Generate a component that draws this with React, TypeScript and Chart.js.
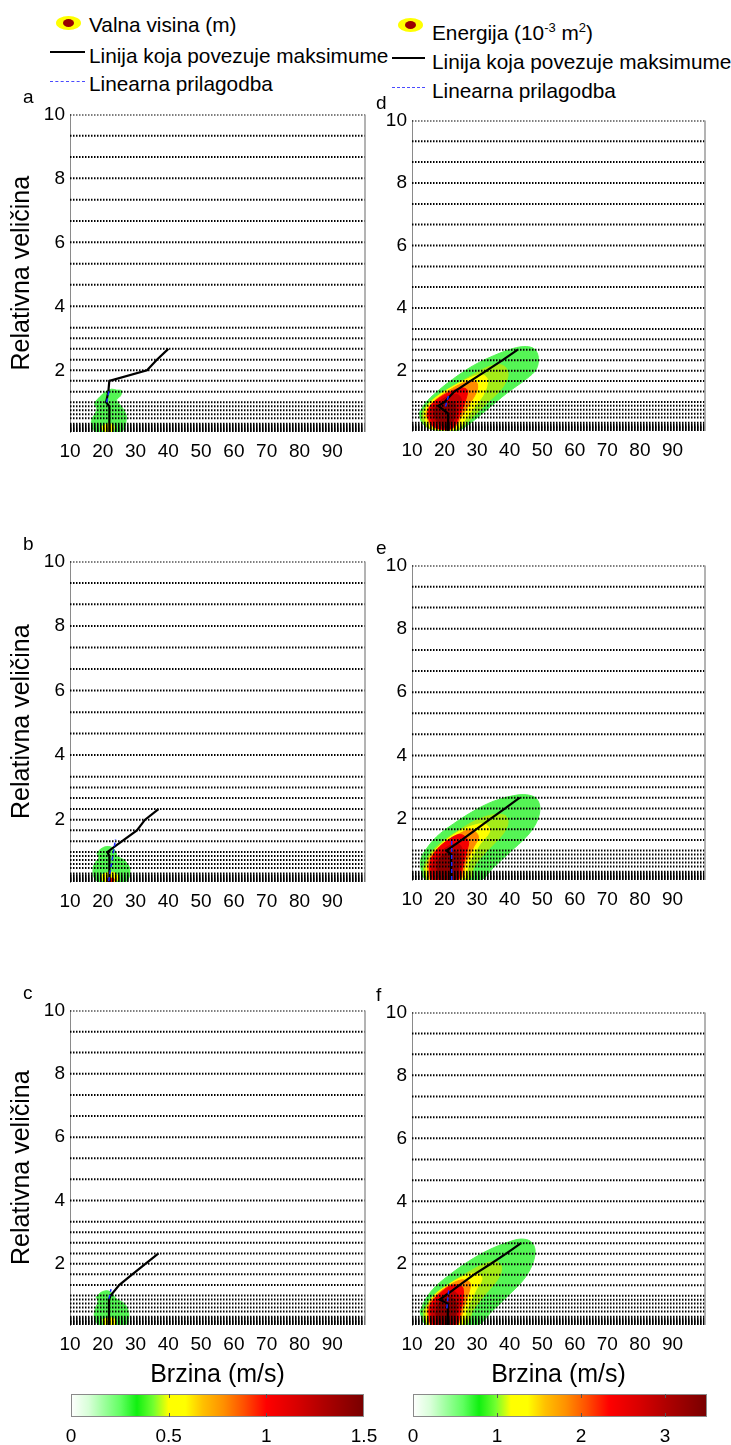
import React, { useEffect, useRef } from "react";
import { Chart, registerables } from "chart.js";
Chart.register(...registerables);

const FONT = '"Liberation Sans", Arial, Helvetica, sans-serif';
type Pt = [number, number];

// ---------- axes ----------
const xTicks = [10, 20, 30, 40, 50, 60, 70, 80, 90];
const yTicks = [2, 4, 6, 8, 10];
const xRange: Pt = [10, 100];
const yRange: Pt = [0.07, 10];
const gridRows = [10, 9.33, 8.67, 8, 7.33, 6.67, 6, 5.33, 4.67, 4, 3.33, 3, 2.67, 2.33, 2, 1.67, 1.33, 1, 0.875, 0.75, 0.625, 0.5, 0.33, 0.28, 0.24, 0.2, 0.17, 0.14, 0.11, 0.08];

// contour level colours (outer -> inner)
const levelColors = ["rgb(85,245,85)", "rgb(165,235,25)", "rgb(255,255,0)", "rgb(255,140,0)", "rgb(245,0,0)", "rgb(195,0,0)", "rgb(140,0,0)"];

// colormap for colour bars
const cmapPos = [0, 0.06, 0.11, 0.17, 0.225, 0.28, 0.333, 0.39, 0.45, 0.52, 0.59, 0.667, 0.77, 0.86, 1];
const cmapCol = ["#ffffff", "#d8ffd8", "#a0ffa0", "#60ff60", "#10f010", "#70ff30", "#ffff00", "#ffff00", "#ffc000", "#ff9000", "#ff5000", "#ff0000", "#d80000", "#b00000", "#780000"];
const cbLeftTicks = [0, 0.5, 1, 1.5];
const cbLeftMax = 1.5;
const cbRightTicks = [0, 1, 2, 3];
const cbRightMax = 3.5;

// ---------- panel a ----------
const aGreen: Pt[] = [[17.6, 1.0], [19.2, 1.18], [21.2, 1.35], [22.7, 1.41], [24.2, 1.38], [25.8, 1.36], [25.4, 1.2], [24.2, 1.07], [25.8, 0.85], [27.1, 0.6], [27.0, 0.35], [26.5, 0.17], [25.5, 0.07], [18, 0.07], [16.8, 0.2], [16.6, 0.43], [17.5, 0.62], [18.2, 0.79], [17.6, 0.92]];
const aYellow: Pt[] = [[19.8, 0.25], [20.3, 0.09], [23, 0.09], [23.3, 0.28], [21.5, 0.33]];
const aMax: Pt[] = [[22, 0.07], [22, 0.33], [22, 0.875], [21, 1.0], [21.7, 1.33], [22, 1.67], [33.5, 2.0], [36.5, 2.33], [40, 2.67]];
const aFit: Pt[] = [[21.2, 1.0], [21.9, 1.36]];

// ---------- panel b ----------
const bGreen: Pt[] = [[18.2, 0.97], [19.5, 1.1], [21.2, 1.17], [23, 1.13], [24, 1.0], [24.4, 0.87], [26.5, 0.75], [28, 0.55], [28.3, 0.35], [27.7, 0.15], [26.5, 0.07], [19, 0.07], [17.5, 0.18], [17, 0.4], [17.5, 0.65], [18.8, 0.82]];
const bYellow: Pt[] = [[19.8, 0.3], [20.2, 0.09], [24.2, 0.09], [24.5, 0.28], [22.5, 0.38]];
const bRed: Pt[] = [[21.2, 0.18], [21.4, 0.08], [23.2, 0.08], [23.3, 0.18]];
const bMax: Pt[] = [[22, 0.07], [22, 0.5], [22, 0.875], [21.4, 1.0], [23.7, 1.17], [25.8, 1.33], [30.4, 1.67], [32.9, 2.0], [37, 2.33]];
const bFit: Pt[] = [[21.8, 0.1], [23.9, 1.4]];

// ---------- panel c ----------
const cGreen: Pt[] = [[18, 0.95], [19.5, 1.1], [21.5, 1.15], [23, 1.05], [24, 0.9], [26.5, 0.75], [27.8, 0.5], [27.8, 0.25], [27, 0.08], [19, 0.07], [17.6, 0.25], [17.5, 0.5], [18.5, 0.8]];
const cYellow: Pt[] = [[20, 0.25], [20.5, 0.08], [23.5, 0.08], [23.7, 0.25], [22, 0.3]];
const cMax: Pt[] = [[21.9, 0.07], [21.9, 0.875], [22.4, 1.0], [25, 1.33], [29, 1.67], [33, 2.0], [37, 2.33]];
const cFit: Pt[] = [[21.9, 0.9], [22.5, 1.2]];

// ---------- panel d ----------
const dL0: Pt[] = [[12.2, 0.64], [13.0, 0.34], [15.5, 0.16], [20.6, 0.07], [24.2, 0.09], [27.3, 0.27], [32.9, 0.74], [39.0, 1.27], [45.2, 1.74], [48.2, 2.05], [48.8, 2.42], [47.7, 2.68], [45.2, 2.77], [41.1, 2.71], [34.9, 2.47], [28.8, 2.16], [22.7, 1.74], [17.6, 1.32], [14.0, 0.95]];
const dL1: Pt[] = [[13.0, 0.43], [15.0, 0.16], [20.6, 0.09], [24.7, 0.13], [27.8, 0.43], [32.9, 0.95], [37.5, 1.42], [39.5, 1.84], [38.5, 2.13], [35.5, 2.19], [30.9, 2.0], [25.7, 1.69], [19.6, 1.32], [15.5, 1.0], [13.3, 0.69]];
const dL2: Pt[] = [[13.7, 0.53], [15.5, 0.19], [20.6, 0.11], [24.2, 0.16], [26.3, 0.43], [29.3, 0.85], [32.4, 1.32], [33.1, 1.74], [31.4, 1.87], [27.8, 1.77], [23.2, 1.53], [18.6, 1.24], [15.3, 0.95], [14.0, 0.72]];
const dL3: Pt[] = [[14.3, 0.58], [16.0, 0.22], [20.6, 0.11], [23.5, 0.22], [25.2, 0.53], [27.8, 0.95], [30.0, 1.37], [29.8, 1.63], [27.3, 1.66], [23.2, 1.48], [19.1, 1.21], [16.0, 0.95], [14.7, 0.74]];
const dL4: Pt[] = [[14.7, 0.58], [16.3, 0.24], [20.6, 0.11], [23.2, 0.24], [24.7, 0.58], [26.3, 1.0], [27.0, 1.37], [25.2, 1.45], [21.7, 1.32], [18.1, 1.11], [15.5, 0.85]];
const dL5: Pt[] = [[15.3, 0.58], [17.1, 0.27], [20.6, 0.13], [22.9, 0.27], [24.2, 0.64], [25.2, 1.06], [23.9, 1.24], [20.6, 1.16], [17.6, 0.95], [15.7, 0.76]];
const dL6: Pt[] = [[16.5, 0.64], [18.1, 0.32], [20.6, 0.19], [22.5, 0.37], [23.5, 0.74], [22.9, 1.0], [20.1, 0.97], [17.6, 0.85]];
const dMax: Pt[] = [[21.1, 0.07], [21.1, 0.625], [18.1, 0.875], [20, 1.0], [23, 1.33], [28, 1.67], [32.9, 2.0], [37.7, 2.33], [42.5, 2.67]];
const dFit: Pt[] = [[20.3, 0.85], [21.2, 1.2]];

// ---------- panel e ----------
const eL0: Pt[] = [[12.7, 0.46], [13.3, 0.19], [14.5, 0.07], [30.9, 0.07], [35.0, 0.46], [40.1, 0.95], [45.2, 1.44], [48.2, 1.88], [49.3, 2.33], [48.2, 2.64], [45.2, 2.76], [41.1, 2.73], [34.9, 2.55], [28.8, 2.24], [22.7, 1.84], [17.6, 1.44], [14.0, 0.99], [12.7, 0.72]];
const eL1: Pt[] = [[13.5, 0.46], [14.5, 0.08], [27.3, 0.08], [29.3, 0.54], [33.9, 1.08], [38.0, 1.53], [39.5, 1.88], [38.5, 2.11], [34.9, 2.13], [29.8, 1.96], [24.7, 1.66], [19.6, 1.3], [15.5, 0.9]];
const eL2: Pt[] = [[14.3, 0.46], [15.3, 0.08], [25.7, 0.08], [27.6, 0.63], [30.7, 1.17], [33.9, 1.62], [32.4, 1.84], [28.8, 1.79], [24.7, 1.62], [19.6, 1.26], [16.0, 0.86]];
const eL3: Pt[] = [[14.7, 0.46], [15.7, 0.08], [24.7, 0.08], [26.6, 0.63], [28.8, 1.08], [30.4, 1.44], [28.3, 1.66], [24.7, 1.54], [20.6, 1.3], [17.1, 0.99], [15.3, 0.72]];
const eL4: Pt[] = [[15.3, 0.46], [16.3, 0.08], [24.2, 0.08], [25.7, 0.54], [27.0, 1.04], [27.3, 1.3], [24.9, 1.51], [21.1, 1.33], [17.8, 1.04], [15.8, 0.72]];
const eL5: Pt[] = [[16.0, 0.41], [17.1, 0.08], [23.7, 0.08], [25.2, 0.5], [25.7, 0.95], [24.2, 1.21], [21.1, 1.13], [18.4, 0.9], [16.5, 0.63]];
const eL6: Pt[] = [[17.6, 0.46], [18.6, 0.08], [23.2, 0.08], [24.5, 0.54], [24.5, 0.9], [22.2, 0.99], [19.6, 0.86], [18.0, 0.68]];
const eMax: Pt[] = [[22, 0.07], [22, 0.875], [20.6, 1.0], [25.2, 1.33], [29.7, 1.67], [34.1, 2.0], [38.6, 2.33], [43.1, 2.67]];
const eFit: Pt[] = [[22.2, 0.07], [22.2, 1.4]];

// ---------- panel f ----------
const fL0: Pt[] = [[12.5, 0.5], [13.3, 0.2], [14.8, 0.07], [30, 0.07], [34.5, 0.5], [39.5, 1.0], [44.2, 1.5], [47, 2.0], [47.8, 2.45], [46.5, 2.72], [43.5, 2.8], [39.5, 2.7], [33.5, 2.45], [27.5, 2.1], [22, 1.7], [17.3, 1.3], [14.2, 0.9]];
const fL1: Pt[] = [[13.4, 0.5], [14.6, 0.08], [26.5, 0.08], [28.8, 0.55], [33, 1.1], [36.5, 1.55], [37.5, 1.9], [36, 2.08], [32, 2.0], [26.5, 1.7], [21, 1.35], [16.5, 1.0]];
const fL2: Pt[] = [[14.2, 0.5], [15.2, 0.08], [25, 0.08], [27, 0.6], [29.5, 1.15], [31.5, 1.55], [29.5, 1.72], [25.5, 1.6], [20.5, 1.3], [16.3, 0.95]];
const fL3: Pt[] = [[14.6, 0.5], [15.6, 0.08], [24, 0.08], [25.8, 0.6], [27.5, 1.1], [27.8, 1.42], [25, 1.5], [21, 1.3], [17.2, 1.0], [15.3, 0.75]];
const fL4: Pt[] = [[15.1, 0.5], [16.1, 0.08], [23.5, 0.08], [25, 0.55], [25.8, 1.0], [25.3, 1.3], [22, 1.32], [18.3, 1.05], [15.8, 0.75]];
const fL5: Pt[] = [[15.8, 0.45], [16.9, 0.08], [23, 0.08], [24.3, 0.5], [24.5, 0.95], [22.5, 1.15], [19.5, 1.0], [16.6, 0.7]];
const fL6: Pt[] = [[17.3, 0.45], [18.3, 0.08], [22.5, 0.08], [23.6, 0.5], [23.3, 0.85], [21, 0.95], [18.5, 0.8]];
const fMax: Pt[] = [[21, 0.07], [21, 0.75], [18.5, 0.875], [21.5, 1.1], [24.5, 1.33], [29, 1.67], [34, 2.0], [38.8, 2.33], [43.5, 2.67]];
const fFit: Pt[] = [[20.7, 0.6], [21.3, 1.2]];

interface Box { l: number; t: number; r: number; b: number }
interface PanelSpec { letter: string; box: Box; contours: Pt[][]; levels: number[]; maxLine: Pt[]; fitLine: Pt[]; yTitle: boolean; xTitle: boolean }

const panels: PanelSpec[] = [
  { letter: "a", box: { l: 70, t: 110, r: 365, b: 432 }, contours: [aGreen, aYellow], levels: [0, 2], maxLine: aMax, fitLine: aFit, yTitle: true, xTitle: false },
  { letter: "b", box: { l: 70, t: 557, r: 365, b: 882 }, contours: [bGreen, bYellow, bRed], levels: [0, 2, 4], maxLine: bMax, fitLine: bFit, yTitle: true, xTitle: false },
  { letter: "c", box: { l: 70, t: 1006, r: 365, b: 1325 }, contours: [cGreen, cYellow], levels: [0, 2], maxLine: cMax, fitLine: cFit, yTitle: true, xTitle: true },
  { letter: "d", box: { l: 412, t: 116, r: 705, b: 431 }, contours: [dL0, dL1, dL2, dL3, dL4, dL5, dL6], levels: [0, 1, 2, 3, 4, 5, 6], maxLine: dMax, fitLine: dFit, yTitle: false, xTitle: false },
  { letter: "e", box: { l: 412, t: 561, r: 705, b: 880 }, contours: [eL0, eL1, eL2, eL3, eL4, eL5, eL6], levels: [0, 1, 2, 3, 4, 5, 6], maxLine: eMax, fitLine: eFit, yTitle: false, xTitle: false },
  { letter: "f", box: { l: 412, t: 1008, r: 705, b: 1325 }, contours: [fL0, fL1, fL2, fL3, fL4, fL5, fL6], levels: [0, 1, 2, 3, 4, 5, 6], maxLine: fMax, fitLine: fFit, yTitle: false, xTitle: true },
];

const toXY = (pts: Pt[]) => pts.map(([x, y]) => ({ x, y }));
const plainLabel = (v: any) => String(v);

const framePlugin = {
  id: "frameRight",
  afterDatasetsDraw(chart: any) {
    const { ctx, chartArea } = chart;
    ctx.save();
    ctx.strokeStyle = "#9a9a9a";
    ctx.lineWidth = 1.5;
    ctx.beginPath();
    ctx.moveTo(chartArea.right, chartArea.top);
    ctx.lineTo(chartArea.right, chartArea.bottom);
    ctx.stroke();
    ctx.restore();
  },
};

const Y_AXIS_W = 70;
const PAD_T = 12;
const PAD_R = 10;

function Panel({ spec }: { spec: PanelSpec }) {
  const ref = useRef<HTMLCanvasElement>(null);
  const xH = spec.xTitle ? 70 : 40;
  const w = spec.box.r - spec.box.l + Y_AXIS_W + PAD_R;
  const h = spec.box.b - spec.box.t + PAD_T + xH;
  useEffect(() => {
    const datasets: any[] = [];
    spec.contours.forEach((pts, i) => {
      const col = levelColors[spec.levels[i]];
      datasets.push({
        data: toXY([...pts, pts[0]]),
        showLine: true,
        fill: "shape",
        backgroundColor: col,
        borderColor: col,
        borderWidth: 1,
        pointRadius: 0,
        tension: 0.35,
        order: 100 - i,
      });
    });
    gridRows.forEach((v) => {
      datasets.push({
        data: [{ x: xRange[0], y: v }, { x: xRange[1], y: v }],
        showLine: true,
        fill: false,
        borderColor: "#000",
        borderWidth: 2,
        borderDash: [1.5, 1.5],
        pointRadius: 0,
        order: 50,
      });
    });
    datasets.push({
      data: toXY(spec.maxLine),
      showLine: true,
      fill: false,
      borderColor: "#000",
      borderWidth: 2.2,
      pointRadius: 0,
      order: 10,
    });
    datasets.push({
      data: toXY(spec.fitLine),
      showLine: true,
      fill: false,
      borderColor: "#1a2cff",
      borderWidth: 1.5,
      borderDash: [4, 3],
      pointRadius: 0,
      order: 5,
    });
    const tickFont = { family: FONT, size: 19 };
    const chart = new Chart(ref.current as HTMLCanvasElement, {
      type: "scatter",
      data: { datasets },
      plugins: [framePlugin],
      options: {
        animation: false,
        responsive: false,
        maintainAspectRatio: false,
        events: [],
        layout: { padding: { left: 0, top: PAD_T, right: PAD_R, bottom: 0 } },
        plugins: { legend: { display: false }, tooltip: { enabled: false } },
        scales: {
          x: {
            type: "linear",
            min: xRange[0],
            max: xRange[1],
            afterBuildTicks: (s: any) => { s.ticks = xTicks.map((v) => ({ value: v })); },
            afterFit: (s: any) => { s.height = xH; },
            grid: { display: false, drawTicks: false },
            border: { display: false },
            ticks: { font: tickFont, color: "#000", padding: 8, maxRotation: 0, autoSkip: false, callback: plainLabel },
            title: spec.xTitle
              ? { display: true, text: "Brzina (m/s)", font: { family: FONT, size: 25 }, color: "#000", padding: { top: 0, bottom: 5 } }
              : { display: false },
          },
          y: {
            type: "linear",
            min: yRange[0],
            max: yRange[1],
            afterBuildTicks: (s: any) => { s.ticks = yTicks.map((v) => ({ value: v })); },
            afterFit: (s: any) => { s.width = Y_AXIS_W; },
            grid: { display: false, drawTicks: false },
            border: { display: true, color: "#8a8a8a", width: 1 },
            ticks: { font: tickFont, color: "#000", padding: 5, autoSkip: false, callback: plainLabel },
            title: spec.yTitle
              ? { display: true, text: "Relativna veličina", font: { family: FONT, size: 25 }, color: "#000", padding: { top: 7, bottom: 0 } }
              : { display: false },
          },
        },
      } as any,
    });
    return () => chart.destroy();
  }, [spec]);
  return (
    <canvas
      ref={ref}
      width={w}
      height={h}
      style={{ position: "absolute", left: spec.box.l - Y_AXIS_W, top: spec.box.t - PAD_T, width: w, height: h }}
    />
  );
}

const colorbarPlugin = {
  id: "cbar",
  beforeDatasetsDraw(chart: any) {
    const { ctx, chartArea } = chart;
    const xs = chart.scales.x;
    const max = xs.max;
    const x0 = xs.getPixelForValue(0);
    const x1 = xs.getPixelForValue(max);
    const g = ctx.createLinearGradient(x0, 0, x1, 0);
    cmapPos.forEach((p, i) => g.addColorStop(p, cmapCol[i]));
    ctx.save();
    ctx.fillStyle = g;
    ctx.fillRect(x0, chartArea.top, x1 - x0, chartArea.bottom - chartArea.top);
    ctx.strokeStyle = "#8a8a8a";
    ctx.lineWidth = 1;
    ctx.strokeRect(x0 + 0.5, chartArea.top + 0.5, x1 - x0 - 1, chartArea.bottom - chartArea.top - 1);
    ctx.strokeStyle = "#555";
    xs.ticks.forEach((t: any) => {
      if (t.value <= 0 || t.value >= max) return;
      const px = Math.round(xs.getPixelForValue(t.value)) + 0.5;
      ctx.beginPath();
      ctx.moveTo(px, chartArea.top);
      ctx.lineTo(px, chartArea.top + 4);
      ctx.moveTo(px, chartArea.bottom);
      ctx.lineTo(px, chartArea.bottom - 4);
      ctx.stroke();
    });
    ctx.restore();
  },
};

function ColorBar({ box, max, ticks }: { box: Box; max: number; ticks: number[] }) {
  const ref = useRef<HTMLCanvasElement>(null);
  const padL = 24, padR = 24, padT = 2, xH = 35;
  const w = box.r - box.l + padL + padR;
  const h = box.b - box.t + padT + xH;
  useEffect(() => {
    const chart = new Chart(ref.current as HTMLCanvasElement, {
      type: "scatter",
      data: { datasets: [] },
      plugins: [colorbarPlugin],
      options: {
        animation: false,
        responsive: false,
        maintainAspectRatio: false,
        events: [],
        layout: { padding: { left: padL, right: padR, top: padT, bottom: 0 } },
        plugins: { legend: { display: false }, tooltip: { enabled: false } },
        scales: {
          x: {
            type: "linear",
            min: 0,
            max,
            afterBuildTicks: (s: any) => { s.ticks = ticks.map((v) => ({ value: v })); },
            afterFit: (s: any) => { s.height = xH; },
            grid: { display: false, drawTicks: false },
            border: { display: false },
            ticks: { font: { family: FONT, size: 19 }, color: "#000", padding: 8, maxRotation: 0, autoSkip: false, callback: plainLabel },
          },
          y: { type: "linear", min: 0, max: 1, display: false },
        },
      } as any,
    });
    return () => chart.destroy();
  }, [box, max, ticks]);
  return <canvas ref={ref} width={w} height={h} style={{ position: "absolute", left: box.l - padL, top: box.t - padT, width: w, height: h }} />;
}

const txt = (left: number, cy: number, content: React.ReactNode, size = 20.8) => (
  <div style={{ position: "absolute", left, top: cy - size * 0.6, fontFamily: FONT, fontSize: size, lineHeight: `${size * 1.2}px`, whiteSpace: "nowrap", color: "#000" }}>{content}</div>
);

const Marker = ({ cx, cy }: { cx: number; cy: number }) => (
  <>
    <div style={{ position: "absolute", left: cx - 12.5, top: cy - 7, width: 25, height: 14, borderRadius: "50%", background: "#ffff00" }} />
    <div style={{ position: "absolute", left: cx - 5.5, top: cy - 4, width: 11, height: 8, borderRadius: "50%", background: "#990000" }} />
  </>
);

const HLine = ({ x0, x1, y, color, dashed }: { x0: number; x1: number; y: number; color: string; dashed?: boolean }) => (
  <div style={{ position: "absolute", left: x0, top: y - 1, width: x1 - x0, height: 0, borderTop: dashed ? `1px dashed ${color}` : `2px solid ${color}` }} />
);

export default function App() {
  return (
    <div style={{ position: "absolute", left: 0, top: 0, width: 731, height: 1445, background: "#fff", overflow: "hidden" }}>
      {/* legend left */}
      <Marker cx={68} cy={23} />
      {txt(89, 25, "Valna visina (m)")}
      <HLine x0={50} x1={85} y={52} color="#000" />
      {txt(89, 56, "Linija koja povezuje maksimume")}
      <HLine x0={50} x1={85} y={82} color="#4a4aff" dashed />
      {txt(89, 84, "Linearna prilagodba")}
      {/* legend right */}
      <Marker cx={410} cy={25} />
      {txt(432, 29, <span>Energija (10<sup style={{ fontSize: 13 }}>-3</sup> m<sup style={{ fontSize: 13 }}>2</sup>)</span>)}
      <HLine x0={392} x1={425} y={58} color="#000" />
      {txt(432, 62, "Linija koja povezuje maksimume")}
      <HLine x0={392} x1={425} y={88} color="#4a4aff" dashed />
      {txt(432, 91, "Linearna prilagodba")}

      {panels.map((p) => (
        <Panel key={p.letter} spec={p} />
      ))}
      {panels.map((p) => (
        <React.Fragment key={"l" + p.letter}>{txt(p.box.l < 200 ? 23 : 376, p.box.t - 13, p.letter, 19)}</React.Fragment>
      ))}

      <ColorBar box={{ l: 71, t: 1394, r: 364, b: 1417 }} max={cbLeftMax} ticks={cbLeftTicks} />
      <ColorBar box={{ l: 413, t: 1394, r: 707, b: 1417 }} max={cbRightMax} ticks={cbRightTicks} />
    </div>
  );
}
